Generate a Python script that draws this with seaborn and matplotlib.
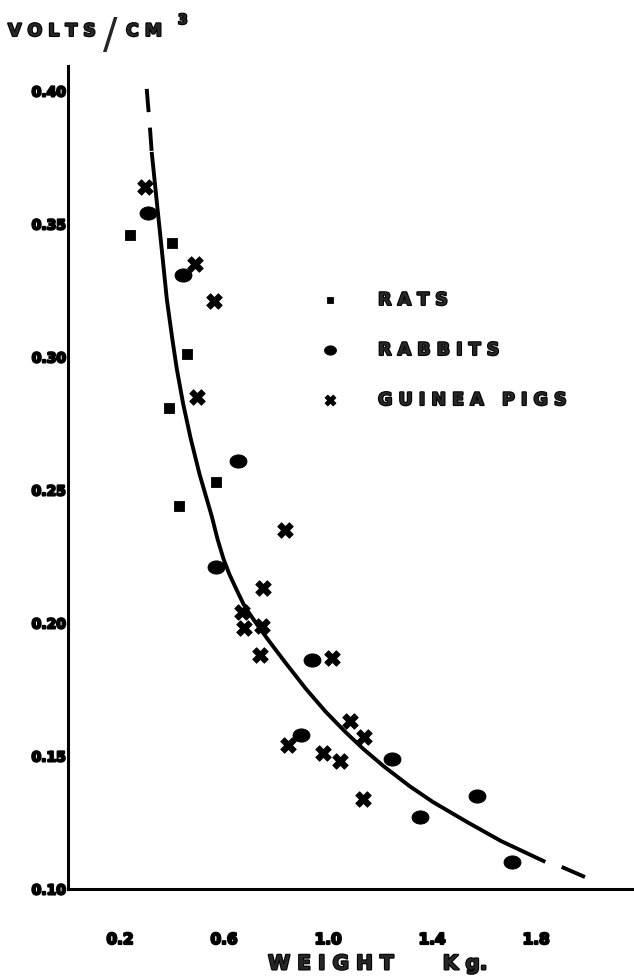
import matplotlib
matplotlib.use("Agg")
import matplotlib.pyplot as plt
import matplotlib.patheffects as pe
from matplotlib.path import Path
import numpy as np
import pandas as pd
import seaborn as sns

# Measured points, weight in kg and volts per cm^3
rat_weight = [0.238, 0.400, 0.458, 0.388, 0.569, 0.427]
rat_volts = [0.346, 0.343, 0.301, 0.281, 0.253, 0.244]

rabbit_weight = [0.308, 0.442, 0.654, 0.569, 0.938, 0.896, 1.246, 1.573, 1.354, 1.708]
rabbit_volts = [0.354, 0.331, 0.261, 0.221, 0.186, 0.158, 0.149, 0.135, 0.127, 0.110]

guinea_weight = [0.296, 0.488, 0.562, 0.496, 0.835, 0.750, 0.669, 0.677, 0.746,
                 0.738, 1.015, 0.846, 1.085, 1.138, 0.981, 1.046, 1.135]
guinea_volts = [0.364, 0.335, 0.321, 0.285, 0.235, 0.213, 0.204, 0.198, 0.199,
                0.188, 0.187, 0.154, 0.163, 0.157, 0.151, 0.148, 0.134]

# Hand-drawn fitted curve: dashed head, solid body, single dash at the tail
head_weight = [0.3027, 0.3154, 0.3219]
head_volts = [0.4008, 0.3859, 0.3771]
curve_weight = [0.3219, 0.3404, 0.3604, 0.3800, 0.4012, 0.4185, 0.4431, 0.4723,
                0.5058, 0.5527, 0.5750, 0.5981, 0.6204, 0.6469, 0.6750, 0.6942,
                0.7308, 0.7673, 0.8346, 0.9154, 0.9923, 1.0673, 1.1365, 1.2135,
                1.3135, 1.4038, 1.5346, 1.6662, 1.8358]
curve_volts = [0.3771, 0.3594, 0.3406, 0.3218, 0.3068, 0.2955, 0.2823, 0.2692,
               0.2560, 0.2402, 0.2316, 0.2241, 0.2184, 0.2128, 0.2071, 0.2041,
               0.1989, 0.1940, 0.1853, 0.1752, 0.1665, 0.1590, 0.1526, 0.1462,
               0.1387, 0.1327, 0.1252, 0.1180, 0.1102]
tail_weight = [1.8988, 1.9885]
tail_volts = [0.1083, 0.1045]

x_ticks = [0.2, 0.6, 1.0, 1.4, 1.8]
x_tick_labels = ["0.2", "0.6", "1.0", "1.4", "1.8"]
y_ticks = [0.10, 0.15, 0.20, 0.25, 0.30, 0.35, 0.40]
y_tick_labels = ["0.10", "0.15", "0.20", "0.25", "0.30", "0.35", "0.40"]

species_names = ["RATS", "RABBITS", "GUINEA PIGS"]

df = pd.concat([
    pd.DataFrame({"weight": rat_weight, "volts": rat_volts, "species": species_names[0]}),
    pd.DataFrame({"weight": rabbit_weight, "volts": rabbit_volts, "species": species_names[1]}),
    pd.DataFrame({"weight": guinea_weight, "volts": guinea_volts, "species": species_names[2]}),
], ignore_index=True)

sns.set_style("white")
plt.rcParams["font.family"] = ["DejaVu Sans"]


def spaced(text, word_gap="   "):
    return word_gap.join(" ".join(word) for word in text.split())


heavy = [pe.withStroke(linewidth=1.5, foreground="black")]

# slightly flattened disc for the rabbit marks
theta = np.linspace(0, 2 * np.pi, 40)
ellipse = Path(np.column_stack([np.cos(theta), 0.78 * np.sin(theta)]), closed=True)

fig = plt.figure(figsize=(6.34, 9.78), dpi=100)
ax = fig.add_axes([68 / 634, 88 / 978, 566 / 634, 823 / 978])

marker_style = {
    species_names[0]: dict(marker="s", s=48),
    species_names[1]: dict(marker=ellipse, s=150),
    species_names[2]: dict(marker="X", s=125),
}
for name in species_names:
    sub = df[df["species"] == name]
    sns.scatterplot(data=sub, x="weight", y="volts", ax=ax, color="black",
                    edgecolor="black", linewidth=0.6, label=spaced(name),
                    **marker_style[name])

line_kw = dict(color="black", lw=2.8)
ax.plot(head_weight, head_volts, linestyle=(0, (6, 4)), **line_kw)
ax.plot(curve_weight, curve_volts, solid_capstyle="butt",
        solid_joinstyle="round", **line_kw)
ax.plot(tail_weight, tail_volts, solid_capstyle="butt", **line_kw)

ax.set_xlim(0, 2.177)
ax.set_ylim(0.10, 0.4094)

for side in ("top", "right"):
    ax.spines[side].set_visible(False)
for side in ("left", "bottom"):
    ax.spines[side].set_linewidth(2.2)
    ax.spines[side].set_color("black")

ax.set_xticks(x_ticks)
ax.set_xticklabels(x_tick_labels)
ax.set_yticks(y_ticks)
ax.set_yticklabels(y_tick_labels)
ax.tick_params(axis="x", direction="in", length=6, width=1.6, pad=31,
               labelsize=11, colors="black")
ax.tick_params(axis="y", direction="in", length=6, width=1.6, pad=1.5,
               labelsize=10, colors="black")
for lab in ax.get_xticklabels() + ax.get_yticklabels():
    lab.set_fontweight("bold")
    lab.set_path_effects(heavy)

ax.set_xlabel(spaced("WEIGHT") + "       " + "K g.", fontsize=14.5,
              fontweight="bold", path_effects=heavy)
ax.xaxis.set_label_coords(0.547, -0.0911)
ax.xaxis.label.set_va("center")
ax.set_ylabel("")

# unit heading above the vertical axis
fig.text(8 / 634, 1 - 37 / 978, spaced("VOLTS"), fontsize=12.5,
         fontweight="bold", va="baseline", ha="left", path_effects=heavy)
fig.text(110 / 634, 1 - 36 / 978, "/", fontsize=31, va="center", ha="center")
fig.text(126 / 634, 1 - 37 / 978, spaced("CM"), fontsize=12.5,
         fontweight="bold", va="baseline", ha="left", path_effects=heavy)
fig.text(178 / 634, 1 - 25 / 978, "3", fontsize=10, fontweight="bold",
         va="baseline", ha="left", path_effects=heavy)

leg = ax.legend(loc="upper left", bbox_to_anchor=(321 / 634, 1 - 292 / 978),
                bbox_transform=fig.transFigure, frameon=False, borderpad=0,
                borderaxespad=0, handlelength=1.0, handletextpad=2.26,
                labelspacing=1.83, markerscale=0.7,
                prop=dict(weight="bold", size=12.6))
for t in leg.get_texts():
    t.set_path_effects(heavy)

fig.savefig("out.png", dpi=100, facecolor="white")
